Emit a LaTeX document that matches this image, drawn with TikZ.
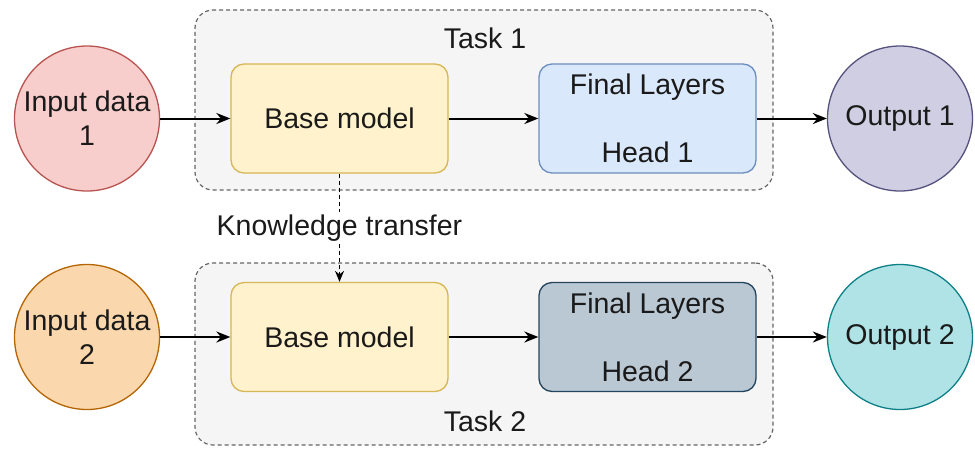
\documentclass[tikz,border=0pt]{standalone}
\usepackage{fontspec}
\setmainfont{Liberation Sans}
\usetikzlibrary{arrows.meta}
\definecolor{redfill}{HTML}{F8CECC}\definecolor{redline}{HTML}{B85450}
\definecolor{orangefill}{HTML}{FAD7AC}\definecolor{orangeline}{HTML}{B46504}
\definecolor{yellowfill}{HTML}{FFF2CC}\definecolor{yellowline}{HTML}{D6B656}
\definecolor{bluefill}{HTML}{DAE8FC}\definecolor{blueline}{HTML}{6C8EBF}
\definecolor{slatefill}{HTML}{BAC8D3}\definecolor{slateline}{HTML}{23445D}
\definecolor{purplefill}{HTML}{D0CEE2}\definecolor{purpleline}{HTML}{56517E}
\definecolor{tealfill}{HTML}{B0E3E6}\definecolor{tealline}{HTML}{0E8088}
\definecolor{taskfill}{HTML}{F5F5F5}\definecolor{taskline}{HTML}{666666}
\definecolor{ink}{HTML}{1A1A1A}
\begin{document}
\begin{tikzpicture}[x=1pt,y=-1pt,>={Stealth[length=14pt,width=11pt]},line width=2pt,
  font=\fontsize{28.5}{34}\selectfont,text=ink]
  \tikzstyle{task}=[draw=taskline,fill=taskfill,line width=1.2pt,dash pattern=on 4pt off 3pt,
    rounded corners=18pt,minimum width=578pt]
  \tikzstyle{data}=[circle,line width=1.3pt,minimum size=145pt,inner sep=0pt,align=center]
  \tikzstyle{block}=[rectangle,rounded corners=13pt,line width=1.3pt,minimum width=217pt,
    minimum height=109pt,inner sep=0pt,align=center]
  \useasboundingbox (0,0) rectangle (975,448);
  \node[task,minimum height=180pt] (T_1) at (484,100) {};
  \node[task,minimum height=182pt] (T_2) at (484,354) {};
  \node (L_1) at (485,38)  {Task 1};
  \node (L_2) at (485,421) {Task 2};
  \node[data,draw=redline,fill=redfill]       (I_1) at (87,118.5) {Input data\\1};
  \node[data,draw=orangeline,fill=orangefill] (I_2) at (87,337)   {Input data\\2};
  \node[block,draw=yellowline,fill=yellowfill] (B_1) at (339.5,118.5) {Base model};
  \node[block,draw=yellowline,fill=yellowfill] (B_2) at (339.5,337)   {Base model};
  \node[block,draw=blueline,fill=bluefill]   (F_1) at (647.5,118.5) {Final Layers\\[34pt]Head 1};
  \node[block,draw=slateline,fill=slatefill] (F_2) at (647.5,337)   {Final Layers\\[34pt]Head 2};
  \node[data,draw=purpleline,fill=purplefill] (O_1) at (900,118.5) {Output 1};
  \node[data,draw=tealline,fill=tealfill]     (O_2) at (900,337)   {Output 2};
  \path[->] (I_1) edge (B_1)
            (B_1) edge (F_1)
            (F_1) edge (O_1)
            (I_2) edge (B_2)
            (B_2) edge (F_2)
            (F_2) edge (O_2);
  \path[->,line width=1.2pt,dash pattern=on 4pt off 3pt,>={Stealth[length=11pt,width=9pt]}]
        (B_1) edge node[fill=white,inner sep=2pt] {Knowledge transfer} (B_2);
\end{tikzpicture}
\end{document}
